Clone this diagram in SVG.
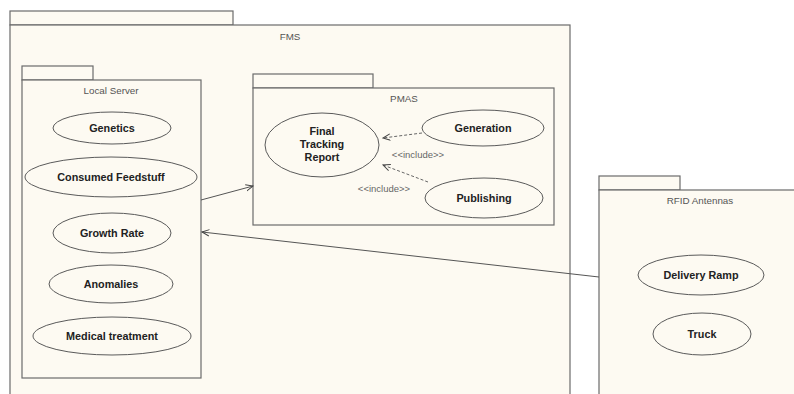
<svg xmlns="http://www.w3.org/2000/svg" width="794" height="394" viewBox="0 0 794 394">
<defs>
<style>
.pkg{fill:#fdfaf2;stroke:#6b6b6b;stroke-width:1.2}
.uc{fill:#fdfaf2;stroke:#5a5a5a;stroke-width:1}
.t{font-family:"Liberation Sans",Arial,sans-serif;font-size:9.8px;fill:#555;text-anchor:middle}
.u{font-family:"Liberation Sans",Arial,sans-serif;font-size:10.8px;font-weight:bold;fill:#222;text-anchor:middle}
.lbl{font-family:"Liberation Sans",Arial,sans-serif;font-size:9.5px;fill:#666;text-anchor:middle}
.c{fill:none;stroke:#555;stroke-width:1}
.d{fill:none;stroke:#666;stroke-width:1;stroke-dasharray:3,2}
</style>
<marker id="open" viewBox="0 0 10 10" refX="9" refY="5" markerWidth="8" markerHeight="8" orient="auto" markerUnits="userSpaceOnUse">
<path d="M0,1 L9,5 L0,9" fill="none" stroke="#444" stroke-width="1.2"/>
</marker>
</defs>
<rect width="794" height="394" fill="#ffffff"/>
<g id="FMS">
<rect class="pkg" x="10" y="11" width="223" height="14"/>
<rect class="pkg" x="10" y="25" width="560" height="375"/>
<text class="t" x="290" y="40">FMS</text>
</g>
<g id="LocalServer">
<rect class="pkg" x="22" y="66" width="71" height="14"/>
<rect class="pkg" x="22" y="80" width="179" height="298"/>
<text class="t" x="111" y="94">Local Server</text>
</g>
<g id="Genetics"><ellipse class="uc" cx="112" cy="128" rx="59" ry="16"/><text class="u" x="112" y="132">Genetics</text></g>
<g id="ConsumedFeedstuff"><ellipse class="uc" cx="111" cy="177" rx="86" ry="20"/><text class="u" x="111" y="181">Consumed Feedstuff</text></g>
<g id="GrowthRate"><ellipse class="uc" cx="112" cy="233" rx="59" ry="20"/><text class="u" x="112" y="237">Growth Rate</text></g>
<g id="Anomalies"><ellipse class="uc" cx="111" cy="284" rx="62" ry="19"/><text class="u" x="111" y="288">Anomalies</text></g>
<g id="MedicalTreatment"><ellipse class="uc" cx="112" cy="336" rx="79" ry="19"/><text class="u" x="112" y="340">Medical treatment</text></g>
<g id="PMAS">
<rect class="pkg" x="253" y="74" width="120" height="14"/>
<rect class="pkg" x="253" y="88" width="301" height="137"/>
<text class="t" x="404" y="102">PMAS</text>
</g>
<g id="FinalTrackingReport"><ellipse class="uc" cx="322" cy="145" rx="57" ry="32"/>
<text class="u" x="322" y="135">Final</text><text class="u" x="322" y="148">Tracking</text><text class="u" x="322" y="161">Report</text></g>
<g id="Generation"><ellipse class="uc" cx="483" cy="128" rx="61" ry="18"/><text class="u" x="483" y="132">Generation</text></g>
<g id="Publishing"><ellipse class="uc" cx="484" cy="198" rx="59" ry="20"/><text class="u" x="484" y="202">Publishing</text></g>
<g id="RFIDAntennas">
<rect class="pkg" x="599" y="176" width="81" height="14"/>
<rect class="pkg" x="599" y="190" width="210" height="220"/>
<text class="t" x="700" y="204">RFID Antennas</text>
</g>
<g id="DeliveryRamp"><ellipse class="uc" cx="701" cy="275" rx="63" ry="20"/><text class="u" x="701" y="279">Delivery Ramp</text></g>
<g id="Truck"><ellipse class="uc" cx="702" cy="334" rx="49" ry="21"/><text class="u" x="702" y="338">Truck</text></g>
<g id="connectors">
<path class="d" d="M422,133 L383,138" marker-end="url(#open)"/>
<path class="d" d="M428,182 L383,165" marker-end="url(#open)"/>
<text class="lbl" x="418" y="158">&lt;&lt;include&gt;&gt;</text>
<text class="lbl" x="384" y="192">&lt;&lt;include&gt;&gt;</text>
<path class="c" d="M201,200 L253,186" marker-end="url(#open)"/>
<path class="c" d="M599,277 L202,232" marker-end="url(#open)"/>
</g>
</svg>
